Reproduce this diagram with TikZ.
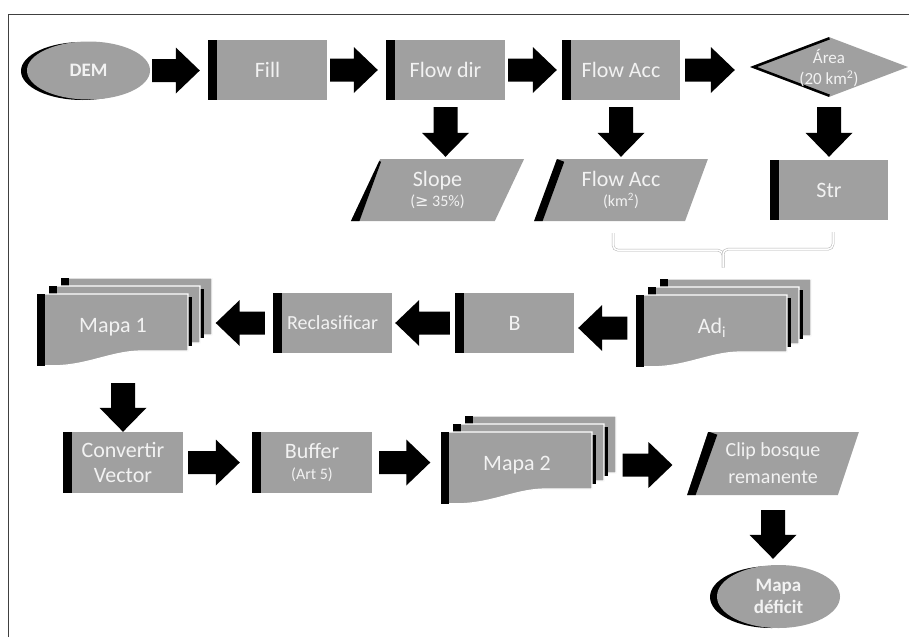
\documentclass[tikz,border=0pt]{standalone}
\usepackage{fontspec}
\setmainfont{Carlito}
\newfontfamily\symf{DejaVu Sans}
\usetikzlibrary{shapes.geometric,calc}
\definecolor{boxgray}{RGB}{160,160,160}
\definecolor{txt}{RGB}{242,242,242}
\newcommand\myA{\fontsize{22}{25}\selectfont}
\newcommand\myB{\fontsize{16}{20}\selectfont}
\newcommand\myC{\fontsize{17}{21}\selectfont}
\newcommand\myD{\fontsize{19}{22}\selectfont\bfseries}
\newcommand\myR{\fontsize{20}{23}\selectfont}
\newcommand\myE{\fontsize{20}{27}\selectfont}
\newcommand\myF{\fontsize{22}{21}\selectfont}
% block arrows between named nodes
\newcommand\rarr[4]{\fill[blk] let \p1=(#1.east), \p2=(#2.west) in
 (\x1+#3pt,\y1+11.5pt) -- (\x2-#4pt-24pt,\y1+11.5pt) -- (\x2-#4pt-24pt,\y1+23pt) -- (\x2-#4pt,\y1)
 -- (\x2-#4pt-24pt,\y1-23pt) -- (\x2-#4pt-24pt,\y1-11.5pt) -- (\x1+#3pt,\y1-11.5pt) -- cycle;}
\newcommand\larr[4]{\fill[blk] let \p1=(#1.west), \p2=(#2.east) in
 (\x1-#3pt,\y1+11.5pt) -- (\x2+#4pt+24pt,\y1+11.5pt) -- (\x2+#4pt+24pt,\y1+23pt) -- (\x2+#4pt,\y1)
 -- (\x2+#4pt+24pt,\y1-23pt) -- (\x2+#4pt+24pt,\y1-11.5pt) -- (\x1-#3pt,\y1-11.5pt) -- cycle;}
\newcommand\darr[5]{\fill[blk] let \p1=(#1.south), \p2=(#2.north), \p3=(#3) in
 (\x3-12pt,\y1-#4pt) -- (\x3-12pt,\y2+#5pt+24pt) -- (\x3-23.5pt,\y2+#5pt+24pt) -- (\x3,\y2+#5pt)
 -- (\x3+23.5pt,\y2+#5pt+24pt) -- (\x3+12pt,\y2+#5pt+24pt) -- (\x3+12pt,\y1-#4pt) -- cycle;}
% one page of a stacked document
\newcommand\onepage[3]{%
 \ifnum#3=1 \fill[black] (#1+147,#2+3) rectangle (#1+155,#2+52);\fi
 \filldraw[fill=boxgray, draw=white, line width=1.2pt] (#1,#2) -- (#1+151,#2) -- (#1+151,#2+57) -- (#1+105,#2+57)
   .. controls (#1+70,#2+57) and (#1+45,#2+76) .. (#1,#2+71) -- cycle;
 \fill[black] (#1,#2) rectangle (#1+8,#2+72);}
\newcommand\stackdoc[4]{%
 \begin{scope}[shift={(#1,#2)}]
  \onepage{24}{-16}{0}
  \onepage{12}{-8}{1}
  \onepage{0}{0}{1}
  \node[stacktxt] (#3) at (76,33) {#4};
 \end{scope}}
\begin{document}
\begin{tikzpicture}[x=1pt,y=-1pt,
 blk/.style={fill=black},
 base/.style={text=txt, align=center, inner sep=1pt},
 box/.style={base, rectangle, fill=boxgray, minimum width=119pt, minimum height=60pt, font=\myA,
   path picture={\fill[black] (path picture bounding box.north west) rectangle ([xshift=9pt]path picture bounding box.south west);}},
 para/.style={base, trapezium, trapezium left angle=70, trapezium right angle=110, trapezium stretches=true,
   fill=boxgray, minimum width=174pt, minimum height=62pt,
   path picture={\draw[black, line width=16pt] (path picture bounding box.south west) -- ([xshift=22.6pt]path picture bounding box.north west);}},
 dia/.style={base, diamond, fill=boxgray, minimum width=158pt, minimum height=60pt, inner sep=0pt, aspect=2.63, font=\myC,
   path picture={\draw[black, line width=5pt] (path picture bounding box.north) -- (path picture bounding box.west) -- (path picture bounding box.south);}},
 oval/.style={base, ellipse, fill=boxgray, minimum width=123pt, minimum height=58pt, font=\myD},
 stacktxt/.style={base, rectangle, minimum width=151pt, minimum height=66pt, font=\myA},
 brace/.style={draw=gray!60, line width=0.5pt, double=white, double distance=1.5pt, rounded corners=5pt},
]
\useasboundingbox (0,0) rectangle (909,637);
\fill[white] (0,0) rectangle (909,637);
\draw[line width=1.2pt, black!75] (8.5,637) -- (8.5,14.5) -- (909,14.5);

% row 1
\fill[black] (82.5,71) ellipse [x radius=61.5pt, y radius=29pt];
\node[oval] (dem) at (88.5,70.5) {DEM};
\node[box] (fill) at (267.5,70) {Fill};
\node[box] (flowdir) at (445.5,70) {Flow dir};
\node[box, minimum width=118pt] (flowacc) at (621,70) {Flow Acc};
\node[dia] (area) at (829,67) {\makebox[0pt]{\smash{\raisebox{-7pt}{\begin{tabular}{@{}c@{}}Área\\(20 km\textsuperscript{2})\end{tabular}}}}};

% row 2
\node[para, font=\myB] (slope) at (437.5,190) {{\myA Slope}\\({\symf ≥} 35\%)};
\node[para, font=\myB] (fa2) at (621,190) {{\myA Flow Acc}\\(km\textsuperscript{2})};
\node[box, minimum width=118pt] (str) at (829,190) {Str};

% row 3
\stackdoc{636}{295}{ad}{Ad\textsubscript{i}}
\node[box] (b) at (514.5,323) {B};
\node[box, font=\myR] (reclas) at (332.5,323) {Reclasificar};
\stackdoc{37}{294}{mapa1}{Mapa 1}

% row 4
\node[box, minimum width=120pt, minimum height=61pt] (conv) at (123,462.5) {Convertir\\Vector};
\node[box, minimum width=120pt, minimum height=61pt, font=\myF] (buffer) at (312,462.5) {Buffer\\{\myB (Art 5)}};
\stackdoc{441}{432}{mapa2}{Mapa 2}
\node[para, minimum width=172pt, minimum height=63pt, font=\myE] (clip) at (773,463.5) {Clip bosque\\remanente};
\fill[black] (771.5,597) ellipse [x radius=61.5pt, y radius=31pt];
\node[oval, minimum height=63pt] (deficit) at (778.5,596.5) {Mapa\\déficit};

% brace
\coordinate (bl) at ($(fa2.south)+(-8,12)$);
\coordinate (br) at ($(str.south)+(4,12)$);
\coordinate (bc) at ($(bl)!0.5!(br)+(0,35)$);
\draw[brace] (bl) -- ++(0,17) -| (bc);
\draw[brace] (br) -- ++(0,17) -| (bc);

% arrows
\rarr{dem}{fill}{2}{8}
\rarr{fill}{flowdir}{3}{8}
\rarr{flowdir}{flowacc}{3}{5}
\rarr{flowacc}{area}{5}{15}
\darr{flowdir}{slope}{flowdir}{7}{2}
\darr{flowacc}{fa2}{flowacc}{7}{2}
\darr{area}{str}{area}{10}{3}
\larr{ad}{b}{9}{4}
\larr{b}{reclas}{5}{3}
\larr{reclas}{mapa1}{8}{27}
\darr{mapa1}{conv}{conv}{23}{0}
\rarr{conv}{buffer}{5}{12}
\rarr{buffer}{mapa2}{7}{11}
\rarr{mapa2}{clip}{30}{25}
\darr{clip}{deficit}{clip}{15}{6}
\end{tikzpicture}
\end{document}
